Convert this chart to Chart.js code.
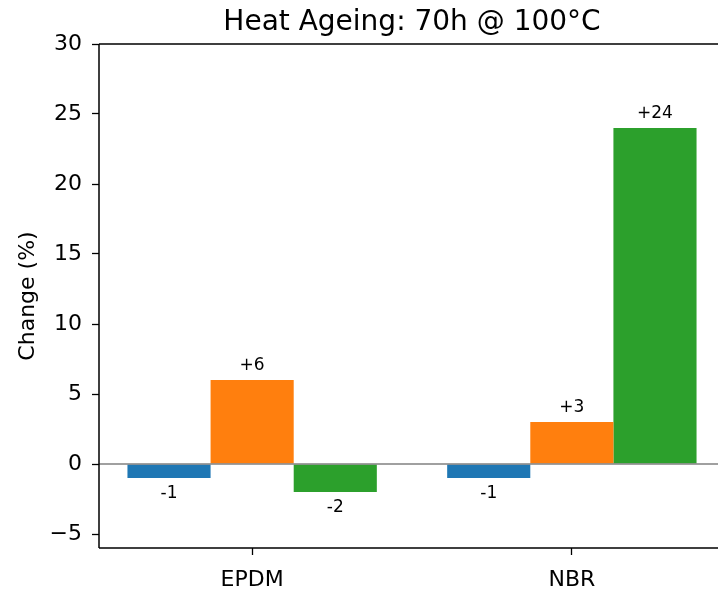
<!DOCTYPE html>
<html><head><meta charset="utf-8">
<script src="https://cdn.jsdelivr.net/npm/chart.js@4"></script>
<style>html,body{margin:0;padding:0;overflow:hidden;background:#fff}#wrap{width:760px;height:591px}</style>
</head><body><div id="wrap"><canvas id="c" width="760" height="591"></canvas></div>
<script>
const categories = ['EPDM', 'NBR'];
const seriesNames = ['Series 1', 'Series 2', 'Series 3'];
const series1 = [-1, -1];
const series2 = [6, 3];
const series3 = [-2, 24];
const seriesColors = ['#1f77b4', '#ff7f0e', '#2ca02c'];
const yTicks = [-5, 0, 5, 10, 15, 20, 25, 30];
const yMin = -6, yMax = 30;
const xMin = -0.479, xMax = 1.479;
const titleText = 'Heat Ageing: 70h @ 100°C';
const yTitle = 'Change (%)';

const FONT = 'DejaVu Sans';
const allSeries = [series1, series2, series3];

const fmt = v => (v > 0 ? '+' : '') + v;

const decor = {
  id: 'decor',
  afterDatasetsDraw(chart) {
    const {ctx, chartArea: a, scales} = chart;
    const y0 = scales.y.getPixelForValue(0);
    ctx.save();
    ctx.strokeStyle = '#808080';
    ctx.lineWidth = 1.3;
    ctx.beginPath(); ctx.moveTo(a.left, y0); ctx.lineTo(a.right, y0); ctx.stroke();
    // value labels
    ctx.fillStyle = '#000';
    ctx.font = '17px "' + FONT + '"';
    ctx.textAlign = 'center';
    ctx.textBaseline = 'alphabetic';
    chart.data.datasets.forEach((ds, di) => {
      const meta = chart.getDatasetMeta(di);
      meta.data.forEach((el, i) => {
        const v = allSeries[di][i];
        const yy = v >= 0 ? el.y - 10 : el.y + 20;
        ctx.fillText(fmt(v), el.x, yy);
      });
    });
    // spines
    ctx.strokeStyle = '#000';
    ctx.lineWidth = 1.5;
    ctx.beginPath();
    ctx.moveTo(a.left, a.top); ctx.lineTo(a.right, a.top);
    ctx.moveTo(a.left, a.top); ctx.lineTo(a.left, a.bottom);
    ctx.moveTo(a.left, a.bottom); ctx.lineTo(a.right, a.bottom);
    ctx.moveTo(a.right, a.top); ctx.lineTo(a.right, a.bottom);
    ctx.stroke();
    // title centred over the axes
    ctx.font = '28px "' + FONT + '"';
    ctx.textAlign = 'center';
    ctx.textBaseline = 'alphabetic';
    ctx.fillText(titleText, (a.left + a.right) / 2, 30);
    ctx.restore();
  }
};

new Chart(document.getElementById('c'), {
  type: 'bar',
  data: {
    datasets: allSeries.map((s, k) => ({
      label: seriesNames[k],
      data: s.map((v, i) => ({x: i, y: v})),
      backgroundColor: seriesColors[k],
      borderWidth: 0
    }))
  },
  options: {
    responsive: false,
    animation: false,
    devicePixelRatio: 1,
    layout: {padding: {left: 0, right: 35, top: 44, bottom: 0}},
    datasets: {bar: {categoryPercentage: 0.78, barPercentage: 1}},
    plugins: {
      legend: {display: false},
      tooltip: {enabled: false},
      title: {display: false}
    },
    scales: {
      x: {
        type: 'linear', min: xMin, max: xMax, offset: false,
        afterBuildTicks: s => { s.ticks = categories.map((c, i) => ({value: i})); },
        ticks: {callback: v => categories[v], color: '#000', font: {family: FONT, size: 22}, padding: 12, maxRotation: 0, autoSkip: false},
        grid: {drawOnChartArea: false, drawTicks: true, tickLength: 7, tickColor: '#000', tickWidth: 1.3, offset: false},
        border: {display: false},
        afterFit: s => { s.height = 43; }
      },
      y: {
        min: yMin, max: yMax,
        afterBuildTicks: s => { s.ticks = yTicks.map(v => ({value: v})); },
        ticks: {callback: v => v < 0 ? '\u2212' + Math.abs(v) : String(v), color: '#000', font: {family: FONT, size: 22}, padding: 10},
        grid: {drawOnChartArea: false, drawTicks: true, tickLength: 7, tickColor: '#000', tickWidth: 1.3},
        border: {display: false},
        title: {display: true, text: yTitle, color: '#000', font: {family: FONT, size: 22}, padding: {top: 15, bottom: 0}},
        afterFit: s => { s.width = 99; }
      }
    }
  },
  plugins: [decor]
});
</script>
</body></html>
